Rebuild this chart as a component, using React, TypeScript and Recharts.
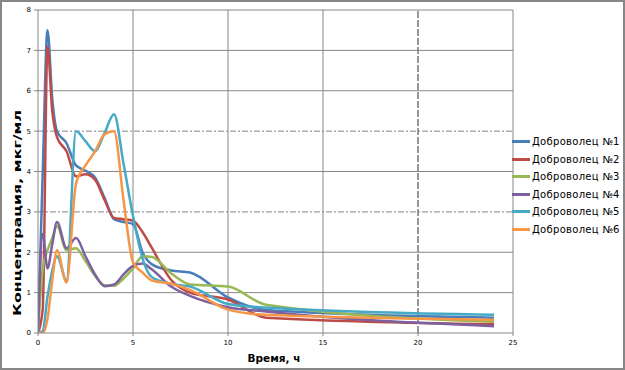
import React from 'react';
import { LineChart, Line, XAxis, YAxis, ReferenceLine, Legend, Label } from 'recharts';

const times = [0, 0.25, 0.5, 0.75, 1, 1.5, 2, 2.5, 3, 3.5, 4, 4.5, 5, 5.5, 6, 7, 8, 10, 12, 24];
const vol1 = [0, 4.0, 7.5, 5.8, 5.0, 4.7, 4.15, 4.02, 3.85, 3.35, 2.82, 2.75, 2.7, 2.0, 1.7, 1.55, 1.5, 0.88, 0.57, 0.38];
const vol2 = [0, 0.6, 7.1, 5.5, 4.85, 4.5, 3.88, 3.93, 3.8, 3.3, 2.85, 2.82, 2.78, 2.5, 2.1, 1.32, 1.0, 0.83, 0.38, 0.22];
const vol3 = [0, 1.6, 2.05, 2.35, 2.65, 2.05, 2.1, 1.78, 1.42, 1.18, 1.17, 1.35, 1.6, 1.9, 1.88, 1.48, 1.2, 1.15, 0.7, 0.28];
const vol4 = [0, 2.45, 1.6, 2.2, 2.75, 2.1, 2.35, 1.9, 1.45, 1.16, 1.2, 1.45, 1.66, 1.72, 1.57, 1.15, 0.92, 0.64, 0.53, 0.17];
const vol5 = [0, 0.05, 0.9, 1.55, 1.9, 1.3, 5.0, 4.75, 4.5, 4.95, 5.42, 4.2, 2.9, 1.85, 1.38, 1.22, 1.15, 0.72, 0.63, 0.45];
const vol6 = [0, 0, 0.35, 1.3, 2.05, 1.25, 3.7, 4.15, 4.5, 4.92, 5.0, 3.3, 1.75, 1.5, 1.3, 1.22, 1.07, 0.58, 0.45, 0.33];

const seriesNames = ['Доброволец №1', 'Доброволец №2', 'Доброволец №3', 'Доброволец №4', 'Доброволец №5', 'Доброволец №6'];
const seriesValues = [vol1, vol2, vol3, vol4, vol5, vol6];
const colors = ['#4A7EBB', '#BE4B48', '#98B954', '#7D60A0', '#46AAC5', '#F79646'];

const xTicks = [0, 5, 10, 15, 20, 25];
const yTicks = [0, 1, 2, 3, 4, 5, 6, 7, 8];
const dashedY = [3, 5];
const dashedX = [20];

const data = times.map((t, i) => {
  const row: Record<string, number> = { t };
  seriesValues.forEach((vals, k) => { row['s' + k] = vals[i]; });
  return row;
});

const gridColor = '#868686';

const LegendContent = () => (
  <div style={{ fontFamily: 'DejaVu Sans, sans-serif', fontSize: 10, color: '#000' }}>
    {seriesNames.map((name, i) => (
      <div key={name} style={{ display: 'flex', alignItems: 'center', height: 17.5 }}>
        <div style={{ width: 18, height: 3, background: colors[i], marginRight: 2 }} />
        <span style={{ letterSpacing: 0.3 }}>{name}</span>
      </div>
    ))}
  </div>
);

export default function App() {
  return (
    <div style={{ position: 'absolute', left: 0, top: 0, width: 625, height: 370, background: '#fff' }}>
      <LineChart
        width={625}
        height={370}
        data={data}
        margin={{ top: 10, right: 2, bottom: 17, left: 0 }}
      >
        {yTicks.filter((v) => v > 0).map((v) => (
          <ReferenceLine
            key={'y' + v}
            y={v}
            stroke={gridColor}
            strokeWidth={1}
            strokeDasharray={dashedY.includes(v) ? '6 2 2 2' : undefined}
          />
        ))}
        {xTicks.filter((v) => v > 0).map((v) => (
          <ReferenceLine
            key={'x' + v}
            x={v}
            stroke={dashedX.includes(v) ? '#777' : gridColor}
            strokeWidth={dashedX.includes(v) ? 1.5 : 1}
            strokeDasharray={dashedX.includes(v) ? '7 2' : undefined}
          />
        ))}
        <XAxis
          dataKey="t"
          type="number"
          domain={[0, 25]}
          ticks={xTicks}
          height={20}
          stroke={gridColor}
          tickSize={3}
          tickMargin={4}
          tick={{ fontSize: 7, fill: '#000', fontFamily: 'DejaVu Sans, sans-serif' }}
          allowDataOverflow
        >
          <Label
            content={() => (
              <text x={274} y={362} textAnchor="middle" fontFamily="DejaVu Sans, sans-serif" fontWeight="bold" fontSize={10.5} fill="#000">
                Время, ч
              </text>
            )}
          />
        </XAxis>
        <YAxis
          type="number"
          domain={[0, 8]}
          ticks={yTicks}
          width={38}
          stroke={gridColor}
          tickSize={4}
          tickMargin={3}
          tick={{ fontSize: 7, fill: '#000', fontFamily: 'DejaVu Sans, sans-serif' }}
          allowDataOverflow
        >
          <Label
            content={() => (
              <text
                x={21}
                y={213}
                transform="rotate(-90 21 213)"
                textAnchor="middle"
                fontFamily="DejaVu Sans, sans-serif"
                fontWeight="bold"
                fontSize={10.5}
                fill="#000"
                textLength={206}
                lengthAdjust="spacingAndGlyphs"
              >
                Концентрация, мкг/мл
              </text>
            )}
          />
        </YAxis>
        {seriesNames.map((name, i) => (
          <Line
            key={name}
            dataKey={'s' + i}
            name={name}
            type="monotone"
            stroke={colors[i]}
            strokeWidth={2.5}
            dot={false}
            activeDot={false}
            isAnimationActive={false}
          />
        ))}
        <Legend
          layout="vertical"
          align="right"
          verticalAlign="top"
          content={<LegendContent />}
          wrapperStyle={{ position: 'absolute', left: 512, top: 133, width: 110 }}
        />
      </LineChart>
      <div
        style={{
          position: 'absolute',
          left: 0,
          top: 0,
          width: 625,
          height: 370,
          boxSizing: 'border-box',
          border: '2px solid #868686',
          pointerEvents: 'none',
        }}
      />
    </div>
  );
}
